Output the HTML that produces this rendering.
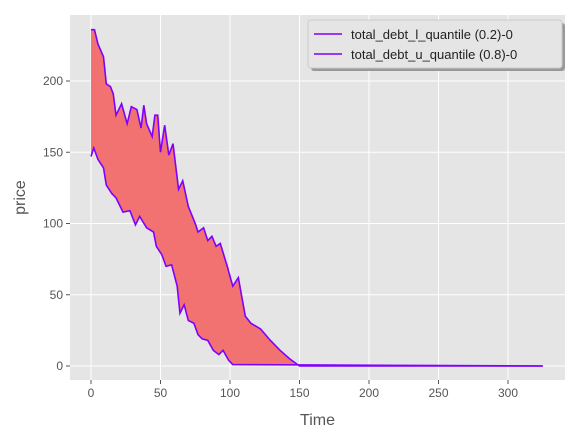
<!DOCTYPE html>
<html><head><meta charset="utf-8"><style>
body{margin:0;background:#fff;font-family:"Liberation Sans",sans-serif;}
svg text{font-family:"Liberation Sans",sans-serif;}
</style></head><body>
<svg id="c" width="579" height="440" xmlns="http://www.w3.org/2000/svg"></svg>
<script>
const uTime=[0,2.5,5,9,11,14,16,18,22,26,29,33,36,38,40,44,46,48,50,53,56,59,63,66,70,75,77,81,84,87,90,93,98,102,106,111,115,122,129,136,143,150,325];
const uVal=[236,236,226,217,198,196,191,176,184,170,182,180,167,183,170,161,176,176,150,169,148,156,124,130,112,100,94,97,88,91,84,86,70,56,62,35,30,26,18,11,5,0,0];
const lTime=[0,2,5,9,11,15,18,23,28,32,35,40,45,47,51,54,58,62,64,67,70,74,77,80,84,88,92,95,99,102,325];
const lVal=[147,153,145,139,127,121,118,108,109,99,105,97,94,84,78,70,71,56,37,43,32,30,22,19,18,11,8,11,4,1,0];
const xTicks=[0,50,100,150,200,250,300];
const yTicks=[0,50,100,150,200];
const L=70,R=565,T=15,B=380;
const sx=t=>91+t*1.39, sy=v=>366-v*1.425;
const svg=document.getElementById('c');const NS='http://www.w3.org/2000/svg';
function mk(tag,attrs,parent){const e=document.createElementNS(NS,tag);for(const k in attrs)e.setAttribute(k,attrs[k]);(parent||svg).appendChild(e);return e;}
const bg=mk('rect',{x:L,y:T,width:R-L,height:B-T,fill:'#e5e5e5'});


xTicks.forEach(t=>{const g=mk('line',{x1:sx(t),x2:sx(t),y1:T,y2:B,stroke:'#fff','stroke-width':1});


mk('line',{x1:sx(t),x2:sx(t),y1:B,y2:B+4,stroke:'#555'});
const tx=mk('text',{x:sx(t),y:B+17,'font-size':12,fill:'#555','text-anchor':'middle'});tx.textContent=t;

});
yTicks.forEach(v=>{const g=mk('line',{x1:L,x2:R,y1:sy(v),y2:sy(v),stroke:'#fff','stroke-width':1});


mk('line',{x1:L-4,x2:L,y1:sy(v),y2:sy(v),stroke:'#555'});
const tx=mk('text',{x:L-7,y:sy(v)+4,'font-size':12,fill:'#555','text-anchor':'end'});tx.textContent=v;

});
const up=uTime.map((t,i)=>sx(t)+','+sy(uVal[i]));
const lp=lTime.map((t,i)=>sx(t)+','+sy(lVal[i]));
const fill=mk('polygon',{points:up.concat(lp.slice().reverse()).join(' '),fill:'#f27272'});


const l1=mk('polyline',{points:lp.join(' '),fill:'none',stroke:'#7f00ff','stroke-width':1.6});


const l2=mk('polyline',{points:up.join(' '),fill:'none',stroke:'#7f00ff','stroke-width':1.6});


const xl=mk('text',{x:(L+R)/2,y:425,'font-size':16,fill:'#555','text-anchor':'middle'});xl.textContent='Time';


const yl=mk('text',{x:25,y:(T+B)/2,'font-size':16,fill:'#555','text-anchor':'middle',transform:'rotate(-90 25 '+(T+B)/2+')'});yl.textContent='price';


const lg=mk('g',{});


mk('rect',{x:311,y:23,width:254,height:48,rx:3,fill:'#999'},lg);
mk('rect',{x:308,y:20,width:254,height:48,rx:3,fill:'#e5e5e5',stroke:'#ccc'},lg);
['total_debt_l_quantile (0.2)-0','total_debt_u_quantile (0.8)-0'].forEach((s,i)=>{const y=34+i*20;
mk('line',{x1:314,x2:342,y1:y,y2:y,stroke:'#7f00ff','stroke-width':1.6},lg);
const t=mk('text',{x:351,y:y+5,'font-size':13,fill:'#222'},lg);t.textContent=s;

});
</script>
</body></html>
